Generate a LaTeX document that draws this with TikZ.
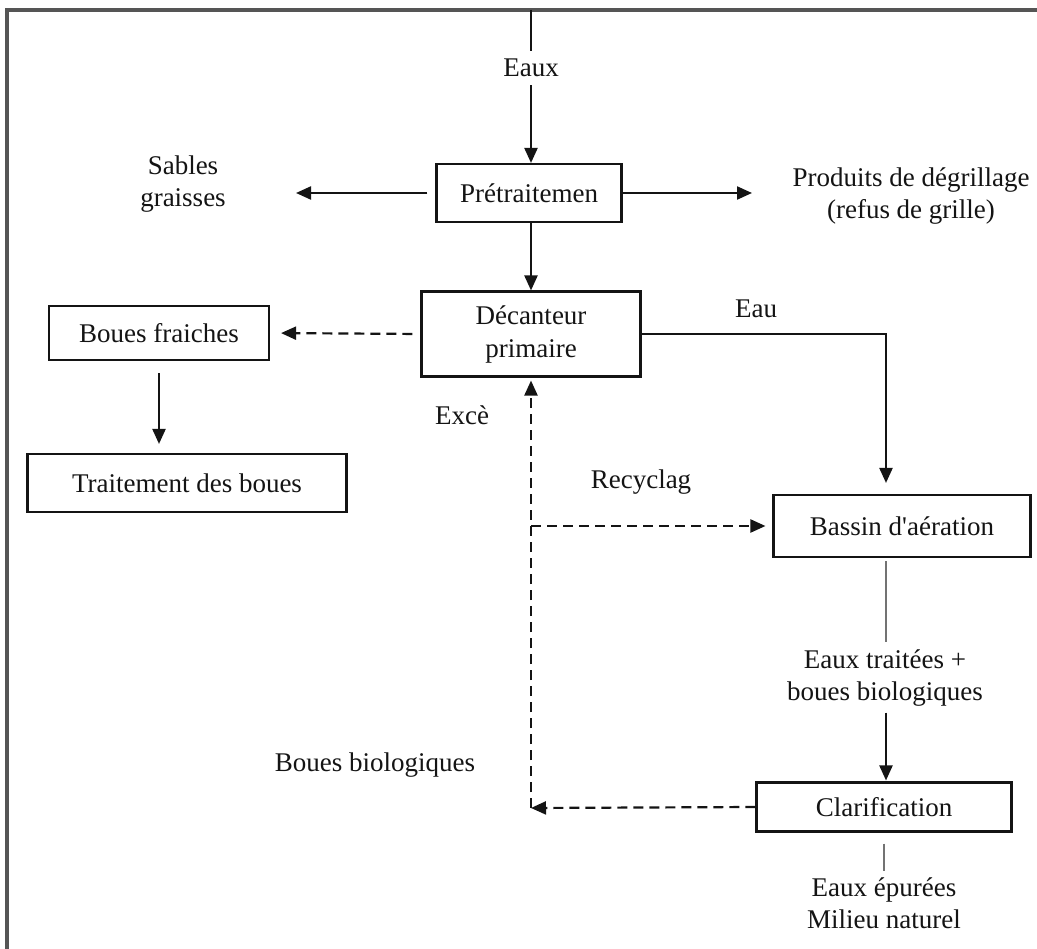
\documentclass[tikz,border=0pt]{standalone}
\usepackage{fontspec}
\setmainfont{Liberation Serif}
\usetikzlibrary{arrows.meta}
\definecolor{ink}{HTML}{141414}
\definecolor{framec}{HTML}{555555}
\begin{document}
\begin{tikzpicture}[x=1pt,y=-1pt,
  box/.style={draw=ink, line width=2.1pt, inner sep=0pt, align=center, text=ink,
    font=\fontsize{27}{33}\selectfont},
  lbl/.style={inner sep=0pt, align=center, text=ink, font=\fontsize{27}{32}\selectfont},
  conn/.style={line width=2.2pt, draw=ink, -{Triangle[length=15pt,width=13pt]}},
  dconn/.style={conn, dash pattern=on 10pt off 6pt},
  plain/.style={line width=2.2pt, draw=ink},
  thinl/.style={line width=1.6pt, draw=black!55}]
\fill[white] (0,0) rectangle (1037,949);
\useasboundingbox (0,0) rectangle (1037,949);
\draw[line width=3.5pt, framec] (7,949) -- (7,10) -- (1037,10);

% nodes
\coordinate (top) at (531,10);
\node[lbl] (eaux) at (531,68) {Eaux};
\node[box, minimum width=185pt, minimum height=58pt] (pret) at (529,193) {Prétraitemen};
\node[lbl] (sables) at (183,184) {Sables\\graisses};
\node[lbl] (prod) at (911,196) {Produits de dégrillage\\(refus de grille)};
\node[box, minimum width=219pt, minimum height=85pt] (dec) at (531,334) {Décanteur\\primaire};
\node[box, minimum width=220pt, minimum height=54pt] (bf) at (159,333) {Boues fraiches};
\node[box, minimum width=319pt, minimum height=58pt] (trait) at (187,483) {Traitement des boues};
\node[lbl] (eau) at (756,309) {Eau};
\node[box, minimum width=257pt, minimum height=62pt] (bassin) at (902,526) {Bassin d\textquotesingle aération};
\node[lbl] (et) at (885,678) {Eaux traitées +\\boues biologiques};
\node[box, minimum width=255pt, minimum height=49pt] (clar) at (884,807) {Clarification};
\node[lbl] (ep) at (884,903) {Eaux épurées\\Milieu naturel};
\node[lbl] (exce) at (462,415) {Excè};
\node[lbl] (recy) at (641,482) {Recyclag};
\node[lbl] (bbio) at (375,765) {Boues biologiques};

\coordinate (sablesTip) at (296,193);
\coordinate (prodTip) at (752,193);
\coordinate (eauCorner) at (886,334);
\coordinate (recB) at (531,808);

% connectors
\draw[plain, shorten >=8pt] (top) -- (top |- eaux.north);
\draw[conn, shorten <=8pt] (top |- eaux.south) -- (top |- pret.north);
\draw[conn, shorten <=8pt] (pret.west) -- (sablesTip);
\draw[conn] (pret.east) -- (prodTip);
\draw[conn] (top |- pret.south) -- (top |- dec.north);
\draw[dconn, shorten <=8pt, shorten >=11pt] (dec.west) -- (bf.east);
\draw[conn, shorten <=12pt, shorten >=9pt] (bf.south) -- (bf.south |- trait.north);
\draw[conn, shorten >=11pt] (dec.east) -- (eauCorner) -- (eauCorner |- bassin.north);
\draw[thinl, shorten <=3pt, shorten >=8pt] (bassin.south -| eauCorner) -- (et.north -| eauCorner);
\draw[conn, shorten <=6pt, shorten >=1pt] (et.south -| eauCorner) -- (clar.north -| eauCorner);
\draw[dconn] (clar.west) -- (recB);
\draw[dconn, shorten >=3pt] (recB) -- (dec.south);
\draw[dconn, shorten >=7pt] (dec.south |- bassin.west) -- (bassin.west);
\draw[thinl, shorten <=11pt, shorten >=6pt] (clar.south) -- (ep.north);
\end{tikzpicture}
\end{document}
